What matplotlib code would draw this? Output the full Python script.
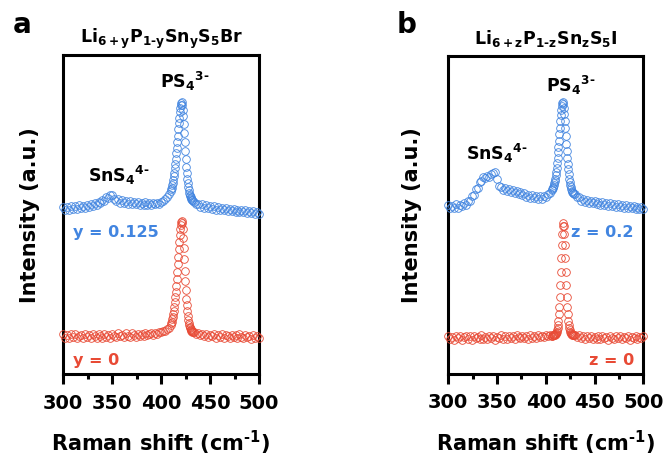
import numpy as np
import matplotlib
matplotlib.use("Agg")
import matplotlib.pyplot as plt
from matplotlib.ticker import MultipleLocator

plt.rcParams['font.family'] = 'DejaVu Sans'
plt.rcParams['font.weight'] = 'bold'
plt.rcParams['mathtext.fontset'] = 'dejavusans'

BLUE = '#4285E0'
RED = '#E84A35'
HY = '\u2010'  # short hyphen for charges and subscripts

# Raman shift grids (cm-1): finer step across the PS4 band
shift_br = np.concatenate([np.arange(300, 410, 2.0), np.arange(410, 433, 0.5), np.arange(434, 501, 2.0)])
shift_i = np.concatenate([np.arange(300, 406, 2.0), np.arange(406, 429, 0.5), np.arange(430, 501, 2.0)])

# Li6+yP1-ySnyS5Br, y = 0
br_y0 = [
    2.5, 1.4, 2.2, 1.3, 2.6, 1.8, 2.7, 1.5, 2.0, 2.4,
    1.4, 2.6, 1.7, 2.3, 1.3, 2.7, 1.9, 1.5, 2.5, 2.0,
    1.5, 2.7, 1.8, 2.4, 1.4, 2.6, 2.1, 1.6, 2.8, 1.9,
    2.4, 1.6, 2.8, 2.0, 1.7, 2.9, 2.2, 1.8, 2.7, 2.1,
    2.6, 1.9, 2.9, 2.2, 2.5, 2.8, 2.4, 3.0, 2.7, 3.1,
    3.2, 3.5, 3.6, 4.1, 4.5,
    5.5, 6.0, 6.5, 7.2, 8.0, 8.9, 9.9, 11.2, 12.6, 14.1,
    15.9, 17.8, 19.9, 22.1, 24.5, 26.8, 29.2, 31.5, 33.6, 35.4,
    36.8, 37.7, 38.0, 37.3, 35.5, 32.8, 29.5, 26.0, 22.5, 19.3,
    16.3, 13.7, 11.6, 9.8, 8.3, 7.1, 6.2, 5.5, 4.9, 4.5,
    4.2, 3.9, 3.7, 3.5, 3.4, 3.3,
    3.2, 2.6, 2.9, 2.2, 2.7, 2.0, 2.6, 1.7, 2.4, 1.9,
    2.6, 1.5, 2.3, 1.8, 2.5, 1.4, 2.2, 1.9, 1.3, 2.4,
    1.6, 2.2, 1.3, 2.5, 1.8, 1.4, 2.3, 1.6, 2.1, 1.2,
    2.2, 1.5, 1.9, 1.4,
]

# Li6+yP1-ySnyS5Br, y = 0.125
br_y125 = [
    2.5, 1.5, 2.3, 1.4, 2.7, 1.8, 2.6, 1.7, 2.9, 2.0,
    2.8, 2.1, 3.1, 2.4, 3.2, 2.6, 3.6, 3.0, 4.0, 3.7,
    4.7, 4.4, 5.5, 5.1, 6.0, 6.1, 5.0, 4.3, 4.9, 3.8,
    4.5, 3.6, 4.3, 3.4, 4.2, 3.2, 4.1, 3.3, 3.9, 3.0,
    3.8, 2.9, 3.9, 3.1, 3.7, 3.0, 3.8, 3.2, 3.6, 3.4,
    4.1, 4.2, 5.0, 5.5, 6.5,
    7.4, 7.9, 8.5, 9.2, 10.0, 11.0, 12.0, 13.2, 14.5, 15.9,
    17.5, 19.2, 21.0, 22.8, 24.7, 26.7, 28.6, 30.4, 32.0, 33.4,
    34.3, 35.0, 35.2, 34.3, 32.9, 31.0, 28.4, 25.5, 22.6, 19.9,
    17.4, 15.0, 12.9, 11.3, 9.8, 8.6, 7.6, 6.8, 6.2, 5.7,
    5.4, 5.1, 4.8, 4.6, 4.5, 4.3,
    4.0, 3.2, 3.4, 2.5, 3.2, 2.2, 2.9, 2.0, 2.7, 1.9,
    2.6, 1.6, 2.4, 1.5, 2.2, 1.3, 2.1, 1.2, 1.9, 1.0,
    1.8, 0.9, 1.6, 0.7, 1.5, 0.8, 1.3, 0.4, 1.2, 0.5,
    1.0, 0.2, 0.9, 0.3,
]

# Li6+zP1-zSnzS5I, z = 0
i_z0 = [
    1.9, 0.9, 1.7, 0.8, 2.0, 1.2, 1.8, 0.7, 1.5, 1.9,
    1.0, 1.8, 0.8, 2.0, 1.3, 1.7, 0.9, 2.1, 1.1, 1.6,
    0.9, 1.9, 1.2, 2.0, 0.8, 1.7, 1.4, 2.1, 1.0, 1.8,
    1.1, 2.0, 1.3, 1.8, 0.9, 2.1, 1.5, 1.2, 2.0, 1.3,
    1.9, 1.1, 2.2, 1.4, 1.8, 1.2, 2.2, 1.5, 2.0, 1.6,
    2.3, 1.8, 2.1,
    2.0, 2.0, 2.1, 2.1, 2.2, 2.3, 2.35, 2.45, 2.6, 2.9,
    3.2, 3.7, 4.4, 5.4, 6.8, 8.7, 11.1, 14.2, 17.9, 22.0,
    26.3, 30.5, 34.1, 36.6, 37.5, 36.6, 34.1, 30.5, 26.3, 22.0,
    17.9, 14.2, 11.1, 8.7, 6.8, 5.4, 4.4, 3.7, 3.2, 2.9,
    2.6, 2.45, 2.35, 2.3, 2.2, 2.1,
    2.3, 1.6, 2.1, 1.2, 1.9, 1.0, 1.8, 1.3, 2.0, 0.9,
    1.7, 1.1, 2.0, 0.9, 1.8, 1.2, 1.6, 0.8, 1.9, 1.3,
    1.0, 1.8, 1.2, 2.0, 0.9, 1.7, 1.3, 1.9, 0.8, 1.6,
    1.2, 2.0, 1.0, 1.7, 1.3, 1.9,
]

# Li6+zP1-zSnzS5I, z = 0.2
i_z02 = [
    3.1, 2.0, 2.9, 2.1, 3.3, 2.3, 3.2, 2.8, 3.6, 3.2,
    4.4, 4.5, 6.0, 6.3, 8.0, 8.5, 10.3, 10.7, 11.9, 11.7,
    12.1, 11.9, 12.9, 13.3, 13.6, 11.2, 9.1, 8.9, 7.9, 8.4,
    7.4, 8.1, 7.1, 7.8, 6.8, 7.5, 6.5, 7.1, 6.1, 6.8,
    5.7, 6.3, 5.3, 6.1, 5.2, 5.9, 5.0, 5.8, 5.1, 5.8,
    5.6, 6.5, 6.9,
    7.9, 8.1, 8.4, 8.8, 9.3, 9.9, 10.6, 11.4, 12.4, 13.5,
    14.8, 16.2, 17.8, 19.6, 21.4, 23.3, 25.4, 27.4, 29.6, 31.5,
    33.0, 34.3, 35.0, 35.3, 34.9, 33.6, 31.8, 29.5, 27.2, 24.7,
    22.4, 20.0, 17.9, 16.0, 14.3, 12.7, 11.4, 10.2, 9.4, 8.6,
    8.0, 7.6, 7.3, 7.0, 6.8, 6.6,
    6.6, 5.6, 5.5, 4.5, 4.9, 4.0, 4.7, 3.7, 4.3, 3.6,
    4.2, 3.3, 4.1, 3.2, 3.9, 3.0, 3.8, 2.9, 3.6, 2.8,
    3.4, 2.5, 3.3, 2.5, 3.2, 2.3, 3.1, 2.2, 2.9, 2.1,
    2.8, 1.9, 2.6, 1.8, 2.6, 1.8,
]

offset_low = 10
offset_high = 50

fig = plt.figure(figsize=(6.69, 4.58), dpi=100)
ax_a = fig.add_axes([63.3 / 669, (458 - 374.3) / 458, 195.7 / 669, 319.3 / 458])
ax_b = fig.add_axes([448.3 / 669, (458 - 374) / 458, 195 / 669, 318.3 / 458])


def draw_spectrum(ax, x, y, offset, color):
    ax.plot(x, np.asarray(y) + offset, 'o', mfc='none', mec=color,
            ms=5.5, mew=0.6, clip_on=False, zorder=3)


def style_axes(ax, ylabel_x):
    ax.set_xlim(300, 500)
    ax.set_ylim(0, 100)
    ax.set_yticks([])
    ax.xaxis.set_major_locator(MultipleLocator(50))
    ax.xaxis.set_minor_locator(MultipleLocator(25))
    ax.tick_params(axis='x', which='major', direction='out', length=7, width=2.2,
                   labelsize=14, pad=7)
    ax.tick_params(axis='x', which='minor', direction='out', length=3.6, width=2.2)
    for lbl in ax.get_xticklabels():
        lbl.set_fontweight('bold')
    for sp in ax.spines.values():
        sp.set_linewidth(2.2)
    ax.set_xlabel(r'Raman shift (cm$^{\mathbf{' + HY + '1}}$)', fontsize=15, fontweight='bold')
    ax.xaxis.set_label_coords(0.5, -0.172)
    ax.set_ylabel('Intensity (a.u.)', fontsize=15, fontweight='bold')
    ax.yaxis.set_label_coords(ylabel_x, 0.5)


def formula(metal, halide):
    return (r'$\mathbf{Li_{6+' + metal + '}P_{1' + HY + metal + '}Sn_{' + metal
            + '}S_{5}' + halide + '}$')


ps4 = r'$\mathbf{PS_{4}{}^{3' + HY + '}}$'
sns4 = r'$\mathbf{SnS_{4}{}^{4' + HY + '}}$'

# panel a
draw_spectrum(ax_a, shift_br, br_y0, offset_low, RED)
draw_spectrum(ax_a, shift_br, br_y125, offset_high, BLUE)
style_axes(ax_a, -0.12)
ax_a.text(0.5, 1.037, formula('y', 'Br'), transform=ax_a.transAxes,
          ha='center', va='baseline', fontsize=12.5)
ax_a.text(424.4, 89.7, ps4, ha='center', va='baseline', fontsize=12.5)
ax_a.text(356.9, 60.2, sns4, ha='center', va='baseline', fontsize=12.5)
ax_a.text(309.9, 43.1, 'y = 0.125', color=BLUE, ha='left', va='baseline', fontsize=11.5)
ax_a.text(309.9, 2.9, 'y = 0', color=RED, ha='left', va='baseline', fontsize=11.5)

# panel b
draw_spectrum(ax_b, shift_i, i_z0, offset_low, RED)
draw_spectrum(ax_b, shift_i, i_z02, offset_high, BLUE)
style_axes(ax_b, -0.135)
ax_b.text(0.5, 1.037, formula('z', 'I'), transform=ax_b.transAxes,
          ha='center', va='baseline', fontsize=12.5)
ax_b.text(425.8, 88.7, ps4, ha='center', va='baseline', fontsize=12.5)
ax_b.text(349.4, 67.2, sns4, ha='center', va='baseline', fontsize=12.5)
ax_b.text(490.4, 43.1, 'z = 0.2', color=BLUE, ha='right', va='baseline', fontsize=11.5)
ax_b.text(490.4, 2.8, 'z = 0', color=RED, ha='right', va='baseline', fontsize=11.5)

fig.text(13 / 669, 1 - 33 / 458, 'a', fontsize=20, fontweight='bold', va='baseline')
fig.text(397 / 669, 1 - 33 / 458, 'b', fontsize=20, fontweight='bold', va='baseline')

fig.savefig('out.png', dpi=100)
